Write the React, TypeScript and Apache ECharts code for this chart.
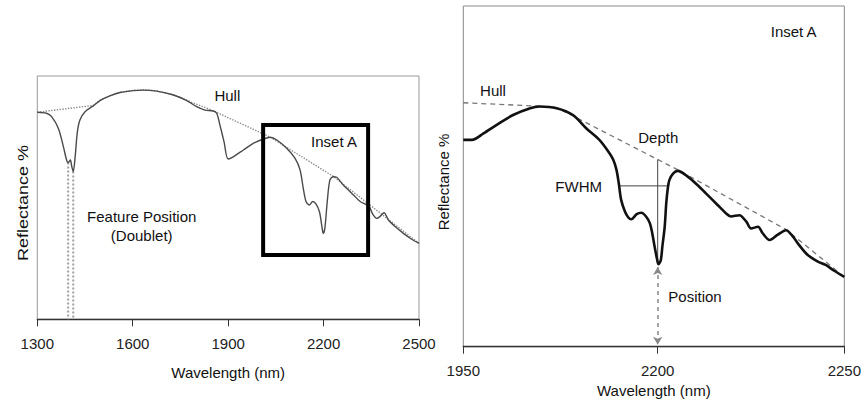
import React, { useEffect, useRef } from "react";
import * as echarts from "echarts";

// ---------- Full spectrum (left panel) ----------
const fullWavelength = [
  1300, 1329, 1345, 1366, 1382, 1392, 1397, 1404, 1408, 1413, 1419, 1426, 1434, 1450, 1476,
  1497, 1528, 1560, 1602, 1633, 1675, 1728, 1770, 1801, 1827, 1853, 1864, 1874, 1887, 1900,
  1916, 1948, 1979, 2011, 2032, 2053, 2084, 2110, 2126, 2137, 2145, 2155, 2166, 2176, 2187,
  2194, 2199, 2204, 2212, 2220, 2231, 2241, 2262, 2294, 2315, 2330, 2344, 2354, 2367, 2377,
  2390, 2404, 2425, 2451, 2477, 2500,
];
const fullReflectance = [
  85.1, 84.7, 83.3, 78.5, 71.0, 65.5, 64.4, 65.5, 63.0, 60.7, 66.8, 77.1, 81.9, 85.3, 87.7,
  89.9, 91.8, 93.2, 94.0, 94.2, 93.8, 92.2, 89.9, 87.4, 86.0, 85.6, 84.7, 79.9, 73.0, 65.9,
  66.8, 69.6, 72.3, 74.1, 74.8, 73.7, 70.3, 66.2, 61.4, 53.2, 48.4, 47.0, 48.4, 47.4, 44.2,
  38.8, 35.3, 37.4, 49.0, 57.3, 58.6, 58.4, 55.2, 51.1, 48.4, 47.4, 46.3, 43.3, 41.5, 42.2,
  43.8, 40.8, 38.1, 35.3, 32.9, 31.2,
];
const fullHullWavelength = [1300, 1476, 1497, 1528, 1560, 1602, 1633, 1675, 1728, 1770, 1853, 2032, 2231, 2500];
const fullHullReflectance = [85.1, 87.9, 90.0, 91.9, 93.3, 94.1, 94.3, 93.9, 92.3, 90.0, 85.7, 74.9, 58.7, 31.2];
const fullTicks = [1300, 1600, 1900, 2200, 2500];
const doubletPositions = [1397, 1413];
const doubletMinima = [64.4, 60.7];
const insetBoxWavelength = [2010, 2340];
const insetBoxReflectance = [26.4, 79.9];

// ---------- Inset A (right panel) ----------
const insetWavelength = [
  1950, 1961, 1976, 1993, 2014, 2036, 2048, 2070, 2091, 2108, 2125, 2138, 2143, 2147, 2150,
  2153, 2158, 2162, 2166, 2173, 2179, 2185, 2190, 2193, 2196, 2199, 2201, 2204, 2206, 2209,
  2211, 2213, 2215, 2220, 2226, 2237, 2250, 2262, 2277, 2288, 2294, 2305, 2314, 2320, 2329,
  2335, 2344, 2354, 2365, 2374, 2382, 2393, 2406, 2416, 2427, 2440,
];
const insetReflectance = [
  60.7, 60.7, 62.6, 65.1, 68.0, 70.0, 70.5, 70.0, 68.0, 64.1, 60.7, 56.8, 54.8, 51.9, 47.9,
  43.1, 39.6, 38.0, 37.4, 38.9, 39.3, 38.2, 36.2, 33.3, 29.4, 25.9, 24.2, 25.4, 29.4, 35.2,
  42.1, 46.5, 48.9, 50.9, 51.6, 50.2, 47.7, 45.0, 41.6, 39.1, 38.2, 38.6, 36.7, 34.7, 35.2,
  33.3, 31.3, 32.8, 34.2, 32.3, 29.8, 26.9, 25.0, 24.0, 22.3, 20.5,
];
const insetHullWavelength = [1950, 2048, 2070, 2226, 2365, 2440];
const insetHullReflectance = [71.6, 70.6, 70.2, 51.9, 34.4, 20.5];
const insetTickValues = [1950, 2200, 2440];
const insetTickLabels = ["1950", "2200", "2250"];
const featurePosition = 2200;
const featureMinimum = 24.2;
const featureHullLevel = 54.9;
const fwhmRange = [2151, 2213];
const fwhmLevel = 47.2;

const zip = (xs: number[], ys: number[]) => xs.map((x, i) => [x, ys[i]]);

const FONT = "Liberation Sans, Arial, Helvetica, sans-serif";

export default function App() {
  const ref = useRef<HTMLDivElement>(null);

  useEffect(() => {
    if (!ref.current) return;
    const chart = echarts.init(ref.current, undefined, { renderer: "svg" });

    const txt = (text: string, x: number, y: number, extra: any = {}) => ({
      type: "text",
      x,
      y,
      silent: true,
      ...extra,
      style: {
        text,
        fill: "#111",
        font: `15px ${FONT}`,
        align: "center",
        verticalAlign: "middle",
        ...(extra.style || {}),
      },
    });

    const axisCommon = {
      type: "value" as const,
      splitLine: { show: false },
      nameLocation: "middle" as const,
      nameTextStyle: { fontSize: 15, fontFamily: FONT, color: "#111" },
      axisLine: { show: true, onZero: false, lineStyle: { color: "#333", width: 1.3 } },
    };

    const option: any = {
      animation: false,
      backgroundColor: "#fff",
      grid: [
        { left: 37.3, top: 76, width: 381.7, height: 243.3, show: true, borderColor: "#999", borderWidth: 1 },
        { left: 463.3, top: 6, width: 381.7, height: 340.7, show: true, borderColor: "#888", borderWidth: 1 },
      ],
      xAxis: [
        {
          ...axisCommon,
          gridIndex: 0,
          min: 1300,
          max: 2500,
          name: "Wavelength (nm)",
          nameGap: 46,
          axisTick: { show: true, customValues: fullTicks, length: 7, lineStyle: { color: "#333" } },
          axisLabel: {
            customValues: fullTicks,
            fontSize: 15,
            fontFamily: FONT,
            color: "#222",
            margin: 17,
            showMinLabel: true,
            showMaxLabel: true,
            formatter: (v: number) => String(v),
          },
        },
        {
          ...axisCommon,
          gridIndex: 1,
          min: 1950,
          max: 2440,
          name: "Wavelength (nm)",
          nameGap: 25,
          axisTick: { show: true, customValues: insetTickValues, length: 7, lineStyle: { color: "#333" } },
          axisLabel: {
            customValues: insetTickValues,
            fontSize: 15,
            fontFamily: FONT,
            color: "#222",
            margin: 16,
            showMinLabel: true,
            showMaxLabel: true,
            formatter: (v: number) => {
              const i = insetTickValues.indexOf(v);
              return i >= 0 ? insetTickLabels[i] : "";
            },
          },
        },
      ],
      yAxis: [
        { type: "value", gridIndex: 0, min: 0, max: 100, axisLine: { show: false }, axisTick: { show: false }, axisLabel: { show: false }, splitLine: { show: false } },
        { type: "value", gridIndex: 1, min: 0, max: 100, axisLine: { show: false }, axisTick: { show: false }, axisLabel: { show: false }, splitLine: { show: false } },
      ],
      series: [
        {
          type: "line",
          xAxisIndex: 0,
          yAxisIndex: 0,
          data: zip(fullHullWavelength, fullHullReflectance),
          showSymbol: false,
          lineStyle: { color: "#8a8a8a", width: 1.4, type: "dotted" },
          z: 2,
        },
        ...doubletPositions.map((p, i) => ({
          type: "line",
          xAxisIndex: 0,
          yAxisIndex: 0,
          data: [
            [p, doubletMinima[i]],
            [p, 0],
          ],
          showSymbol: false,
          lineStyle: { color: "#a0a0a0", width: 2, type: "dotted" },
          z: 2,
        })),
        {
          type: "line",
          xAxisIndex: 0,
          yAxisIndex: 0,
          data: zip(fullWavelength, fullReflectance),
          showSymbol: false,
          smooth: 0.3,
          lineStyle: { color: "#4a4a4a", width: 1.4 },
          z: 3,
        },
        {
          type: "line",
          xAxisIndex: 0,
          yAxisIndex: 0,
          data: [
            [insetBoxWavelength[0], insetBoxReflectance[1]],
            [insetBoxWavelength[1], insetBoxReflectance[1]],
            [insetBoxWavelength[1], insetBoxReflectance[0]],
            [insetBoxWavelength[0], insetBoxReflectance[0]],
            [insetBoxWavelength[0], insetBoxReflectance[1]],
          ],
          showSymbol: false,
          lineStyle: { color: "#000", width: 4, join: "miter", cap: "square" },
          z: 4,
        },
        {
          type: "line",
          xAxisIndex: 1,
          yAxisIndex: 1,
          data: zip(insetHullWavelength, insetHullReflectance),
          showSymbol: false,
          lineStyle: { color: "#777", width: 1.3, type: [5, 4] },
          z: 2,
        },
        {
          type: "line",
          xAxisIndex: 1,
          yAxisIndex: 1,
          data: [
            [featurePosition, featureMinimum],
            [featurePosition, featureHullLevel],
          ],
          showSymbol: false,
          lineStyle: { color: "#444", width: 1 },
          z: 2,
        },
        {
          type: "line",
          xAxisIndex: 1,
          yAxisIndex: 1,
          data: [
            [fwhmRange[0], fwhmLevel],
            [fwhmRange[1], fwhmLevel],
          ],
          showSymbol: false,
          lineStyle: { color: "#444", width: 1 },
          z: 2,
        },
        {
          type: "line",
          xAxisIndex: 1,
          yAxisIndex: 1,
          data: [
            [featurePosition, featureMinimum - 0.8],
            [featurePosition, 0.6],
          ],
          showSymbol: false,
          lineStyle: { opacity: 0 },
          markLine: {
            silent: true,
            symbol: ["arrow", "arrow"],
            symbolSize: [7, 8],
            label: { show: false },
            lineStyle: { color: "#888", width: 1.5, type: [4, 4] },
            itemStyle: { color: "#888" },
            data: [
              [
                { coord: [featurePosition, featureMinimum - 0.8] },
                { coord: [featurePosition, 0.6] },
              ],
            ],
          },
          z: 2,
        },
        {
          type: "line",
          xAxisIndex: 1,
          yAxisIndex: 1,
          data: zip(insetWavelength, insetReflectance),
          showSymbol: false,
          smooth: 0.3,
          lineStyle: { color: "#111", width: 2.6 },
          z: 3,
        },
      ],
      graphic: [
        txt("Reflectance %", 23.3, 203, { rotation: Math.PI / 2, scaleX: 1.2 }),
        txt("Hull", 227.3, 95),
        txt("Inset A", 334, 141.7),
        txt("Feature Position", 141.7, 216.7),
        txt("(Doublet)", 141.7, 235),
        txt("Reflectance %", 443.3, 182, { rotation: Math.PI / 2 }),
        txt("Inset A", 793.7, 31.7),
        txt("Hull", 493, 90.7),
        txt("Depth", 658.3, 137.3),
        txt("FWHM", 578.7, 186),
        txt("Position", 668.3, 296, { style: { align: "left" } }),
      ],
    };

    chart.setOption(option);
    return () => chart.dispose();
  }, []);

  return (
    <div
      ref={ref}
      style={{ position: "absolute", left: 0, top: 0, width: 864, height: 405, background: "#fff" }}
    />
  );
}
